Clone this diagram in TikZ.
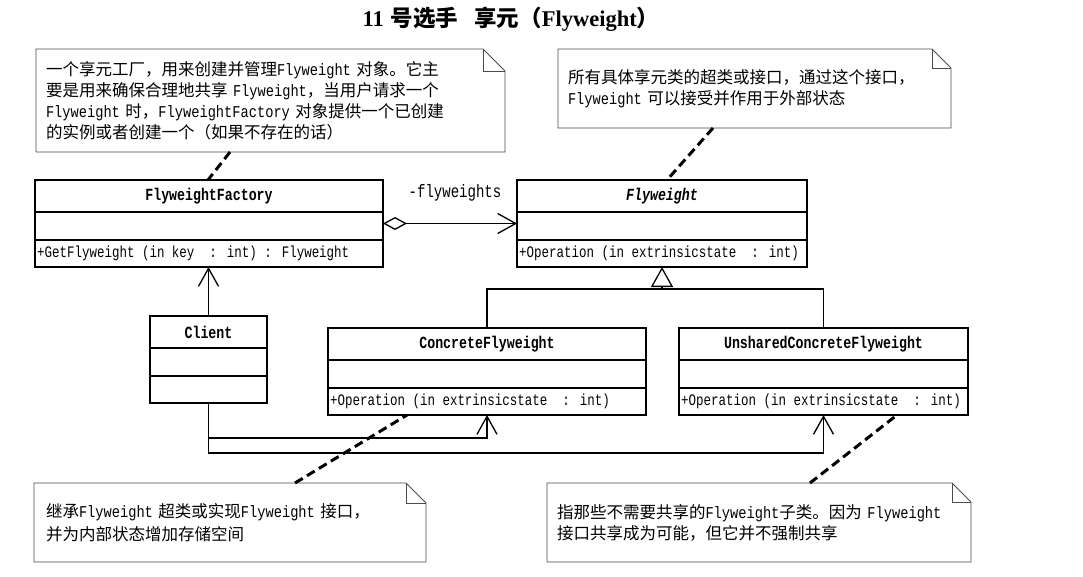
\documentclass[tikz,border=0pt]{standalone}
\usepackage{fontspec}
\setmainfont{Liberation Serif}
\setmonofont{Liberation Mono}
\newfontfamily\cjk{Noto Sans CJK SC}
\newfontfamily\narrowmono[FakeStretch=0.78]{Liberation Mono}
\newfontfamily\notemono[FakeStretch=0.83]{Liberation Mono}
\usetikzlibrary{arrows.meta}
\newcommand\lt[1]{{\notemono #1}}
\tikzset{
  clsbox/.style={draw=black, line width=1.5pt, rectangle, minimum height=87pt, inner sep=0pt, outer sep=0pt, anchor=north west},
  clsline/.style={draw=black, line width=1.5pt},
  clsname/.style={font=\narrowmono\bfseries\fontsize{17}{19}\selectfont, inner sep=0pt},
  clsop/.style={font=\narrowmono\fontsize{16}{18}\selectfont, inner sep=0pt, anchor=west},
  notebox/.style={rectangle, inner xsep=10pt, inner ysep=0pt, outer sep=0pt, anchor=north west, align=left, font=\cjk\fontsize{16.5}{21}\selectfont},
  noteline/.style={draw=black!70, line width=0.9pt},
  anchorline/.style={draw=black, line width=3pt, dash pattern=on 9pt off 5pt},
  assoc/.style={draw=black, line width=1.3pt, -{Straight Barb[length=18pt,width=20pt]}},
  aggr/.style={draw=black, line width=1.3pt, {Diamond[open,length=24pt,width=13pt]}-{Straight Barb[length=18pt,width=20pt]}},
  gen/.style={draw=black, line width=1.3pt, -{Triangle[open,length=20pt,width=22pt]}},
  rel/.style={draw=black, line width=1.3pt},
  lbl/.style={font=\narrowmono\fontsize{18}{20}\selectfont, inner sep=0pt},
  titlestyle/.style={font=\bfseries\fontsize{22.5}{26}\selectfont, inner sep=0pt}
}
\newcommand\umlclass[6]{%
  \node[clsbox, minimum width=#4pt] (#1) at (#2,#3) {};
  \draw[clsline] ([yshift=-32pt]#1.north west) -- ([yshift=-32pt]#1.north east);
  \draw[clsline] ([yshift=-60pt]#1.north west) -- ([yshift=-60pt]#1.north east);
  \node[clsname] (#1-t) at ([yshift=-16pt]#1.north) {#5};
  \node[clsop] (#1-o) at ([xshift=2pt,yshift=-73.5pt]#1.north west) {#6};
}
\newcommand\notedraw[2]{%
  \draw[noteline] (#1.north west) -- ([xshift=-#2]#1.north east) -- ([yshift=-#2]#1.north east) -- (#1.south east) -- (#1.south west) -- cycle;
  \draw[noteline] ([xshift=-#2]#1.north east) -- ([xshift=-#2,yshift=-#2]#1.north east) -- ([yshift=-#2]#1.north east);
}
\begin{document}
\begin{tikzpicture}[x=1pt,y=-1pt]
\fill[white] (0,0) rectangle (1083,577);
\useasboundingbox (0,0) rectangle (1083,577);

% title
\node[titlestyle] (title) at (511,19) {11\hspace{7pt}{\cjk 号选手}\hspace{16pt}{\cjk 享元（}Flyweight{\cjk ）}};

% notes
\node[notebox, text width=449pt, minimum height=103pt] (n1) at (36,49)
  {一个享元工厂，用来创建并管理\lt{Flyweight} 对象。它主\\
   要是用来确保合理地共享 \lt{Flyweight}，当用户请求一个\\
   \lt{Flyweight} 时，\lt{FlyweightFactory} 对象提供一个已创建\\
   的实例或者创建一个（如果不存在的话）};
\notedraw{n1}{22pt}

\node[notebox, text width=373pt, minimum height=79pt] (n2) at (558,49)
  {所有具体享元类的超类或接口，通过这个接口，\\
   \lt{Flyweight} 可以接受并作用于外部状态};
\notedraw{n2}{19pt}

\node[notebox, text width=368pt, minimum height=79pt, inner xsep=12pt, font=\cjk\fontsize{16.5}{23}\selectfont] (n3) at (34,483)
  {继承\lt{Flyweight} 超类或实现\lt{Flyweight} 接口，\\
   并为内部状态增加存储空间};
\notedraw{n3}{20pt}

\node[notebox, text width=404pt, minimum height=79pt] (n4) at (547,483)
  {指那些不需要共享的\lt{Flyweight}子类。因为 \lt{Flyweight}\\
   接口共享成为可能，但它并不强制共享};
\notedraw{n4}{19pt}

% classes
\umlclass{ff}{35}{180}{348}{FlyweightFactory}{+GetFlyweight (in key\ \ : int) : Flyweight}
\umlclass{fw}{517}{180}{290}{\textit{Flyweight}}{+Operation (in extrinsicstate\ \ : int)}
\umlclass{cl}{150}{316}{117}{Client}{}
\umlclass{cf}{328}{328}{318}{ConcreteFlyweight}{+Operation (in extrinsicstate\ \ : int)}
\umlclass{ucf}{679}{328}{289}{UnsharedConcreteFlyweight}{+Operation (in extrinsicstate\ \ : int)}

% aggregation
\draw[aggr] (ff.east) -- (fw.west);
\node[lbl] (agl) at (455,193) {-flyweights};

% generalization
\coordinate (gy) at (0,289);
\draw[rel] (cf.north) |- (fw.south |- gy) -| (ucf.north);
\draw[gen] (fw.south |- gy) -- (fw.south);

% client associations
\coordinate (ly1) at (0,438);
\coordinate (ly2) at (0,453);
\draw[assoc] (cl.north) -- (cl.north |- ff.south);
\draw[assoc] (cl.south) |- (cf.south |- ly1) -- (cf.south);
\draw[assoc] (cl.south) |- (ucf.south |- ly2) -- (ucf.south);

% note anchors
\draw[anchorline] ([xshift=194pt]n1.south west) -- ([xshift=173pt]ff.north west);
\draw[anchorline] ([xshift=155pt]n2.south west) -- ([xshift=150pt]fw.north west);
\draw[anchorline] ([xshift=261pt]n3.north west) -- ([xshift=79pt]cf.south west);
\draw[anchorline] ([xshift=263pt]n4.north west) -- ([xshift=218pt]ucf.south west);
\end{tikzpicture}
\end{document}
